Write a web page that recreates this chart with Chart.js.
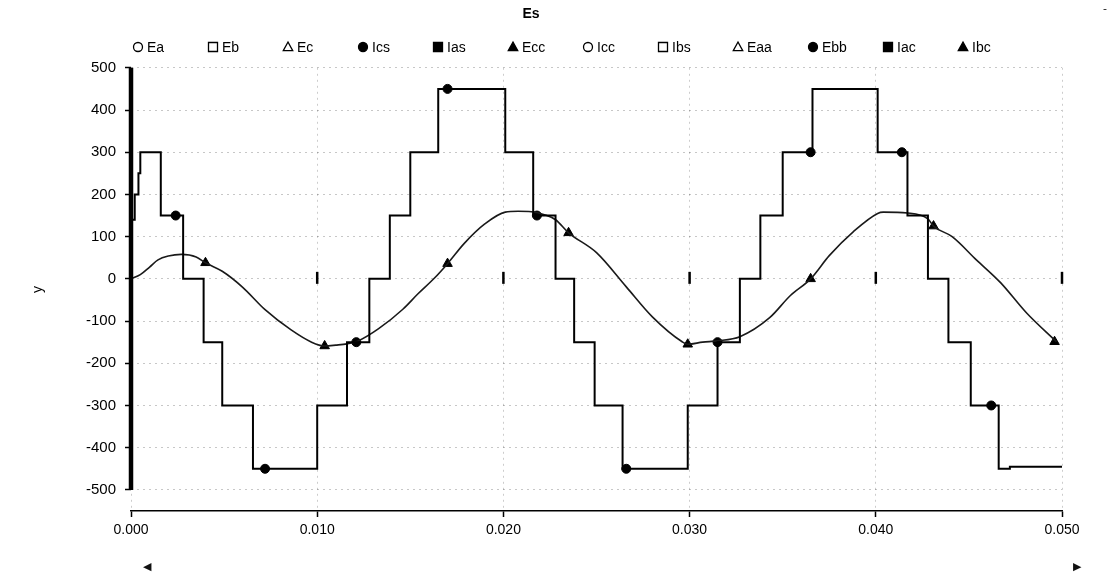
<!DOCTYPE html>
<html>
<head>
<meta charset="utf-8">
<title>Es</title>
<script src="https://cdn.jsdelivr.net/npm/chart.js@4.4.1/dist/chart.umd.min.js"></script>
<style>
  html, body { margin: 0; padding: 0; background: #fff; }
  #wrap { position: relative; width: 1116px; height: 580px; }
  .nav { position: absolute; font: 11px "DejaVu Sans", sans-serif; color: #111; }
</style>
</head>
<body>
<div id="wrap">
  <canvas id="chartEs" width="1116" height="580"></canvas>
  <span class="nav" style="left:143px;top:560px">◀</span>
  <span class="nav" style="left:1073px;top:560px">▶</span>
  <span class="nav" style="left:1103px;top:2px">-</span>
</div>
<script>
// ── DATA ─────────────────────────────────────
const legendNames  = ['Ea', 'Eb', 'Ec', 'Ics', 'Ias', 'Ecc', 'Icc', 'Ibs', 'Eaa', 'Ebb', 'Iac', 'Ibc'];
const legendStyles = ['circle', 'rect', 'triangle', 'circle', 'rect', 'triangle',
                      'circle', 'rect', 'triangle', 'circle', 'rect', 'triangle'];
const legendFilled = [false, false, false, true, true, true, false, false, false, true, true, true];

const xTickValues = [0, 0.01, 0.02, 0.03, 0.04, 0.05];
const yTickValues = [-500, -400, -300, -200, -100, 0, 100, 200, 300, 400, 500];

// staircase (Ics): time of each jump and the level after it
const stepTime  = [0, 0.0002, 0.0004, 0.0005, 0.0016, 0.0028, 0.0039, 0.0049, 0.00655, 0.0100,
                   0.0116, 0.0128, 0.0139, 0.0150, 0.0165, 0.0201, 0.0216, 0.0228, 0.0238, 0.0249,
                   0.0264, 0.0299, 0.0315, 0.0327, 0.0338, 0.0350, 0.0366, 0.0401, 0.0417, 0.0428,
                   0.0439, 0.0451, 0.0466, 0.0472, 0.0500];
const stepValue = [140, 200, 250, 300, 150, 0, -150, -300, -450, -300,
                   -150, 0, 150, 300, 450, 300, 150, 0, -150, -300,
                   -450, -300, -150, 0, 150, 300, 450, 300, 150, 0,
                   -150, -300, -450, -445, -445];
const icsMarkTime  = [0.0024, 0.0072, 0.0121, 0.0170, 0.0218, 0.0266, 0.0315, 0.0365, 0.0414, 0.0462];
const icsMarkValue = [150, -450, -150, 450, 150, -450, -150, 300, 300, -300];

// smooth wave (Ecc)
const curveTime  = [0, 0.0005, 0.0010, 0.00145, 0.0020, 0.0027, 0.0035, 0.0040, 0.0049, 0.0060,
                    0.0072, 0.0086, 0.0097, 0.0104, 0.0110, 0.0116, 0.0122, 0.0133, 0.0146, 0.0154,
                    0.0163, 0.0170, 0.0179, 0.0190, 0.0201, 0.0208, 0.0215, 0.0222, 0.0228, 0.0235,
                    0.0250, 0.0266, 0.0280, 0.0296, 0.0299, 0.0307, 0.0315, 0.0327, 0.0343, 0.0354,
                    0.0365, 0.0375, 0.0388, 0.0401, 0.0404, 0.0417, 0.0428, 0.0431, 0.0441, 0.0454,
                    0.0467, 0.0481, 0.0497];
const curveValue = [0, 10, 28, 45, 54, 58, 52, 38, 18, -20,
                    -73, -121, -150, -159, -157, -154, -147, -118, -72, -36,
                    2, 36, 84, 130, 158, 160, 159, 152, 140, 109,
                    62, -19, -90, -149, -155, -150, -147, -137, -92, -40,
                    0, 55, 112, 155, 158, 156, 142, 125, 100, 45,
                    -9, -81, -149];
const eccMarkTime  = [0.0040, 0.0104, 0.0170, 0.0235, 0.0299, 0.0365, 0.0431, 0.0496];
const eccMarkValue = [38, -159, 36, 109, -155, 0, 125, -149];

const FONT = '"Liberation Sans", Arial, sans-serif';
const LEGEND_X = 138, LEGEND_STEP = 75, LEGEND_Y = 47;

const pts = (ts, vs) => ts.map((t, i) => ({ x: t, y: vs[i] }));

// ── DATASETS ─────────────────────────────────
const datasets = legendNames.map((name, i) => ({
  label: name,
  data: [],
  showLine: true,
  pointStyle: legendStyles[i],
  borderColor: '#000',
  backgroundColor: legendFilled[i] ? '#000' : '#fff',
  pointBackgroundColor: legendFilled[i] ? '#000' : '#fff',
  pointBorderColor: '#000',
  pointRadius: 0,
  borderWidth: 1.5
}));

datasets[3].data = pts(stepTime, stepValue);
datasets[3].stepped = true;
datasets[3].borderWidth = 2;

datasets[5].data = pts(curveTime, curveValue);
datasets[5].borderColor = '#1a1a1a';
datasets[5].borderWidth = 1.6;
datasets[5].cubicInterpolationMode = 'monotone';

datasets.push({
  label: 'Ics', data: pts(icsMarkTime, icsMarkValue), showLine: false,
  pointStyle: 'circle', pointRadius: 4.5, pointBackgroundColor: '#000', pointBorderColor: '#000'
});
datasets.push({
  label: 'Ecc', data: pts(eccMarkTime, eccMarkValue), showLine: false,
  pointStyle: 'triangle', pointRadius: 5.5, pointBackgroundColor: '#000', pointBorderColor: '#000'
});

// ── PLUGINS ──────────────────────────────────
function drawMarker(c, style, x, y, r, fill) {
  c.beginPath();
  if (style === 'circle') c.arc(x, y, r, 0, Math.PI * 2);
  else if (style === 'rect') c.rect(x - r, y - r, r * 2, r * 2);
  else { c.moveTo(x, y - r * 1.1); c.lineTo(x + r * 1.05, y + r * 0.8); c.lineTo(x - r * 1.05, y + r * 0.8); c.closePath(); }
  c.fillStyle = fill ? '#000' : '#fff';
  c.fill();
  c.lineWidth = 1.3;
  c.strokeStyle = '#000';
  c.stroke();
}

const legendRow = {
  id: 'legendRow',
  afterDraw(chart) {
    const c = chart.ctx;
    c.save();
    c.font = '14px ' + FONT;
    c.textAlign = 'left';
    c.textBaseline = 'middle';
    legendNames.forEach((name, i) => {
      const x = LEGEND_X + i * LEGEND_STEP;
      drawMarker(c, legendStyles[i], x, LEGEND_Y, 4.5, legendFilled[i]);
      c.fillStyle = '#000';
      c.fillText(name, x + 9, LEGEND_Y + 1);
    });
    c.restore();
  }
};

const axisDecor = {
  id: 'axisDecor',
  afterDraw(chart) {
    const { ctx: c, scales: { x, y } } = chart;
    c.save();
    c.strokeStyle = '#000';
    // thick y axis line, -500 .. 500
    c.lineWidth = 4.5;
    c.beginPath();
    c.moveTo(x.left, y.getPixelForValue(500));
    c.lineTo(x.left, y.getPixelForValue(-500));
    c.stroke();
    // small tick marks on the zero line
    const y0 = y.getPixelForValue(0);
    c.lineWidth = 2.5;
    xTickValues.slice(1).forEach(v => {
      const px = x.getPixelForValue(v);
      c.beginPath();
      c.moveTo(px, y0 - 7);
      c.lineTo(px, y0 + 5);
      c.stroke();
    });
    c.restore();
  }
};

// ── CHART ────────────────────────────────────
new Chart(document.getElementById('chartEs'), {
  type: 'scatter',
  data: { datasets },
  options: {
    responsive: false,
    animation: false,
    layout: { padding: { top: 2, right: 54, left: 0, bottom: 0 } },
    plugins: {
      legend: { display: false },
      tooltip: { enabled: false },
      title: {
        display: true, text: 'Es', color: '#000',
        font: { family: FONT, size: 14, weight: 'bold' },
        padding: { top: 4, bottom: 45 }
      }
    },
    scales: {
      x: {
        type: 'linear', min: 0, max: 0.05,
        afterBuildTicks: s => { s.ticks = xTickValues.map(v => ({ value: v })); },
        afterFit: s => { s.height = 69; },
        ticks: {
          color: '#000', padding: 5, maxRotation: 0, autoSkip: false,
          font: { family: FONT, size: 14 },
          callback: v => v.toFixed(3)
        },
        grid: { color: 'rgba(0,0,0,0.2)', lineWidth: 1, tickLength: 6, tickColor: '#000', tickWidth: 1.5 },
        border: { display: true, color: '#000', width: 1.5, dash: [2, 4] }
      },
      y: {
        min: -550, max: 500,
        afterBuildTicks: s => { s.ticks = yTickValues.map(v => ({ value: v })); },
        afterFit: s => { s.width = 131; },
        ticks: {
          color: '#000', padding: 9,
          font: { family: FONT, size: 15 },
          callback: v => String(v)
        },
        title: {
          display: true, text: 'y', color: '#000',
          font: { family: FONT, size: 14 },
          padding: { top: 30, bottom: 0 }
        },
        grid: { color: 'rgba(0,0,0,0.22)', lineWidth: 1, tickLength: 6, tickColor: '#000', tickWidth: 1.5 },
        border: { display: false, dash: [2, 4] }
      }
    }
  },
  plugins: [legendRow, axisDecor]
});
</script>
</body>
</html>
